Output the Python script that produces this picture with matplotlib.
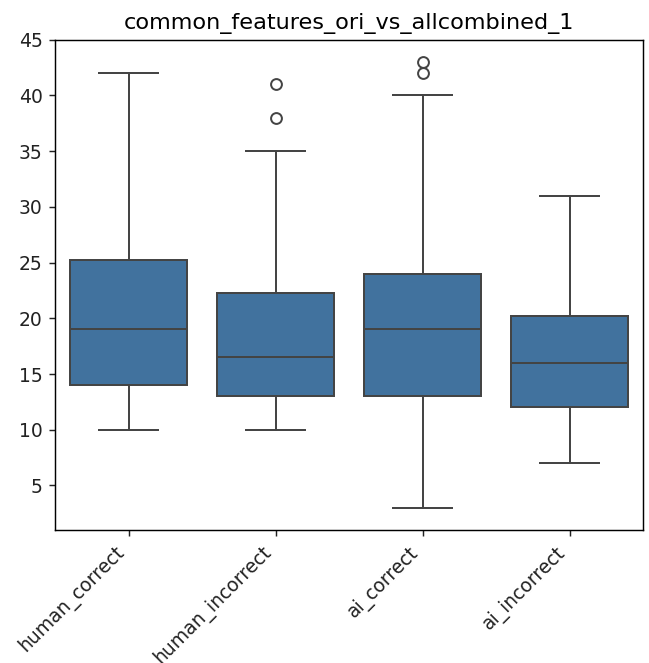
import matplotlib
matplotlib.use("Agg")
import matplotlib.pyplot as plt

categories = ["human_correct", "human_incorrect", "ai_correct", "ai_incorrect"]
whisker_low = [10, 10, 3, 7]
q1 = [14, 13, 13, 12]
median = [19, 16.5, 19, 16]
q3 = [25.25, 22.25, 24, 20.25]
whisker_high = [42, 35, 40, 31]
outliers = [[], [38, 41], [42, 43], []]
title = "common_features_ori_vs_allcombined_1"

stats = []
for i, c in enumerate(categories):
    stats.append(dict(label=c, whislo=whisker_low[i], q1=q1[i], med=median[i],
                      q3=q3[i], whishi=whisker_high[i], fliers=outliers[i]))

dpi = 130
fig = plt.figure(figsize=(649 / dpi, 663 / dpi), dpi=dpi)
ax = fig.add_axes([0.085, 0.2006, 0.906, 0.7394])

face = "#41729e"
line = "#444444"
lw = 1.1
ax.bxp(stats, positions=range(len(categories)), widths=0.8, patch_artist=True,
       boxprops=dict(facecolor=face, edgecolor=line, linewidth=lw),
       medianprops=dict(color=line, linewidth=lw),
       whiskerprops=dict(color=line, linewidth=lw),
       capprops=dict(color=line, linewidth=lw),
       flierprops=dict(marker="o", markerfacecolor="none", markeredgecolor=line,
                       markersize=6, markeredgewidth=lw),
       capwidths=0.4)

ax.set_xlim(-0.5, len(categories) - 0.5)
ax.set_ylim(1, 45)
ax.set_yticks([5, 10, 15, 20, 25, 30, 35, 40, 45])
ax.tick_params(labelsize=10.4, colors="#222222")
ax.set_xticks(range(len(categories)))
ax.set_xticklabels(categories, rotation=45, ha="right")
ax.set_title(title, fontsize=12.4)

fig.savefig("out.png", dpi=dpi)
